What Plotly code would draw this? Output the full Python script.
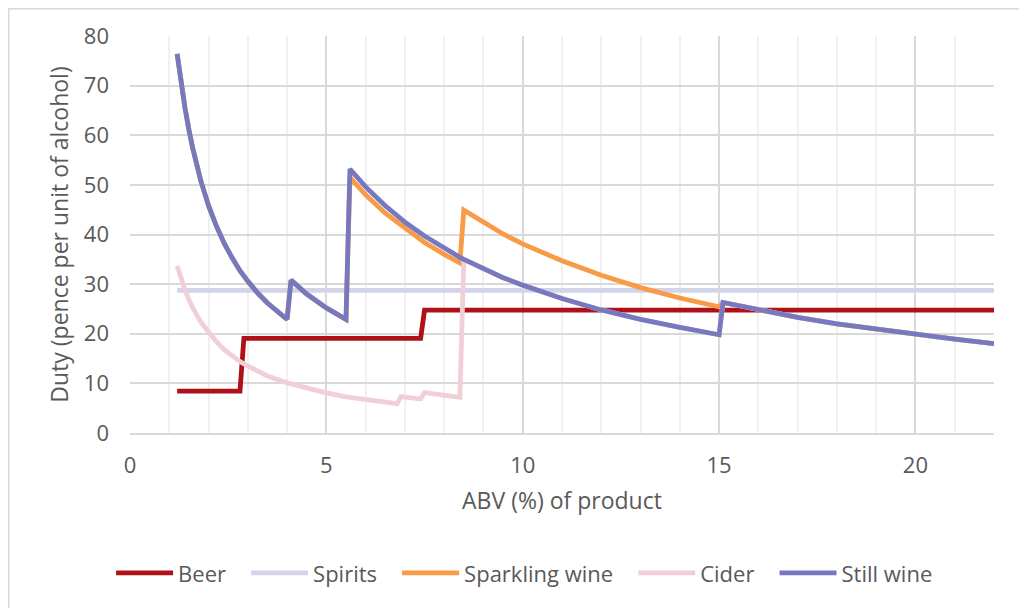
import plotly.graph_objects as go

# ---- data ----
beer_x = [1.2, 2.8, 2.9, 7.4, 7.5, 22]
beer_y = [8.42, 8.42, 19.08, 19.08, 24.77, 24.77]

spirits_x = [1.2, 22]
spirits_y = [28.74, 28.74]

wine_x = [1.2, 1.3, 1.4, 1.5, 1.6, 1.8, 2.0, 2.2, 2.4, 2.6, 2.8, 3.0, 3.25, 3.5, 3.75,
          4.0, 4.1, 4.5, 5.0, 5.5, 5.6, 6.0, 6.5, 7.0, 7.5, 8.0, 8.4, 8.5, 9.0, 9.5,
          10, 11, 12, 13, 14, 15, 15.1, 16, 17, 18, 19, 20, 21, 22]
still_y = [76.4, 70.5, 65.5, 61.1, 57.3, 50.9, 45.8, 41.7, 38.2, 35.3, 32.7, 30.6, 28.2, 26.2, 24.4,
           22.9, 30.8, 28.0, 25.2, 22.9, 53.2, 49.6, 45.8, 42.5, 39.7, 37.2, 35.4, 35.0, 33.1, 31.3,
           29.8, 27.1, 24.8, 22.9, 21.3, 19.8, 26.3, 24.8, 23.3, 22.0, 20.9, 19.8, 18.9, 18.0]
sparkling_y = [76.4, 70.5, 65.5, 61.1, 57.3, 50.9, 45.8, 41.7, 38.2, 35.3, 32.7, 30.6, 28.2, 26.2, 24.4,
               22.9, 30.8, 28.0, 25.2, 22.9, 51.5, 48.0, 44.3, 41.2, 38.4, 36.0, 34.3, 44.9, 42.4, 40.1,
               38.1, 34.7, 31.8, 29.3, 27.2, 25.4, 26.3, 24.8, 23.3, 22.0, 20.9, 19.8, 18.9, 18.0]

cider_x = [1.2, 1.3, 1.4, 1.5, 1.6, 1.8, 2.0, 2.2, 2.4, 2.6, 2.8, 3.0, 3.5, 4.0, 4.5, 5.0, 5.5,
           6.0, 6.5, 6.8, 6.9, 7.4, 7.5, 8.0, 8.4, 8.5, 9.0, 9.5, 10, 11, 12, 13, 14, 15, 15.1,
           16, 17, 18, 19, 20, 21, 22]
cider_y = [33.7, 31.1, 28.8, 26.9, 25.2, 22.4, 20.2, 18.4, 16.8, 15.5, 14.4, 13.5, 11.5, 10.1, 9.0, 8.1, 7.3,
           6.7, 6.2, 5.9, 7.35, 6.85, 8.15, 7.6, 7.2, 35.0, 33.1, 31.3, 29.8, 27.1, 24.8, 22.9, 21.3, 19.8, 26.3,
           24.8, 23.3, 22.0, 20.9, 19.8, 18.9, 18.0]

series_names = ["Beer", "Spirits", "Sparkling wine", "Cider", "Still wine"]
series_x = [beer_x, spirits_x, wine_x, cider_x, wine_x]
series_y = [beer_y, spirits_y, sparkling_y, cider_y, still_y]
series_colors = ["#AE1119", "#D2D4EA", "#F99A46", "#F0D0D6", "#7679BF"]

fig = go.Figure()
PAD = "\u00a0\u00a0\u2009"
for i, (name, xs, ys, col) in enumerate(zip(series_names, series_x, series_y, series_colors)):
    label = name + (PAD if i < len(series_names) - 1 else "")
    fig.add_trace(go.Scatter(x=xs, y=ys, name=label, mode="lines",
                             line=dict(color=col, width=4.8)))

font_col = "#595959"
FONT = "Open Sans"
FS = 22
FT = 23

# page has an 8px body margin; figure is placed at (8, 8)
W, H = 1019, 600
L, T = 122, 28
PW, PH = 864, 397.3
R = W - L - PW
B = H - T - PH

fig.update_layout(
    width=W, height=H,
    margin=dict(l=L, r=R, t=T, b=B),
    paper_bgcolor="white", plot_bgcolor="white",
    font=dict(family=FONT, size=FS, color=font_col),
    showlegend=True,
    legend=dict(orientation="h", x=-0.03 + 7 / PW, xanchor="left", y=-0.353, yanchor="middle",
                font=dict(size=FS, color=font_col), itemwidth=57, tracegroupgap=0),
    xaxis=dict(range=[0, 22], tick0=0, dtick=5, showgrid=True, gridcolor="#D9D9D9", gridwidth=1.5,
               zeroline=False, showline=True, linecolor="#D9D9D9", linewidth=1.5,
               ticks="", ticklabelstandoff=12,
               minor=dict(dtick=1, showgrid=True, gridcolor="#F0F0F0", gridwidth=1.5),
               title=dict(text="ABV (%) of product", standoff=15, font=dict(size=FT, color=font_col))),
    yaxis=dict(range=[0, 80], tick0=0, dtick=10, showgrid=True, gridcolor="#D9D9D9", gridwidth=1.5,
               zeroline=False, showline=False, ticks="", ticklabelstandoff=20,
               title=dict(text="Duty (pence per unit of alcohol)", standoff=8,
                          font=dict(size=FT, color=font_col))),
    shapes=[dict(type="rect", xref="paper", yref="paper",
                 x0=(0.8 - L) / PW, x1=(W + 20 - L) / PW,
                 y0=-(H + 20 - T - PH) / PH, y1=1 + (T - 0.8) / PH,
                 line=dict(color="#D9D9D9", width=1.5), fillcolor="rgba(0,0,0,0)", layer="below")],
)

fig.write_html("out.html")
